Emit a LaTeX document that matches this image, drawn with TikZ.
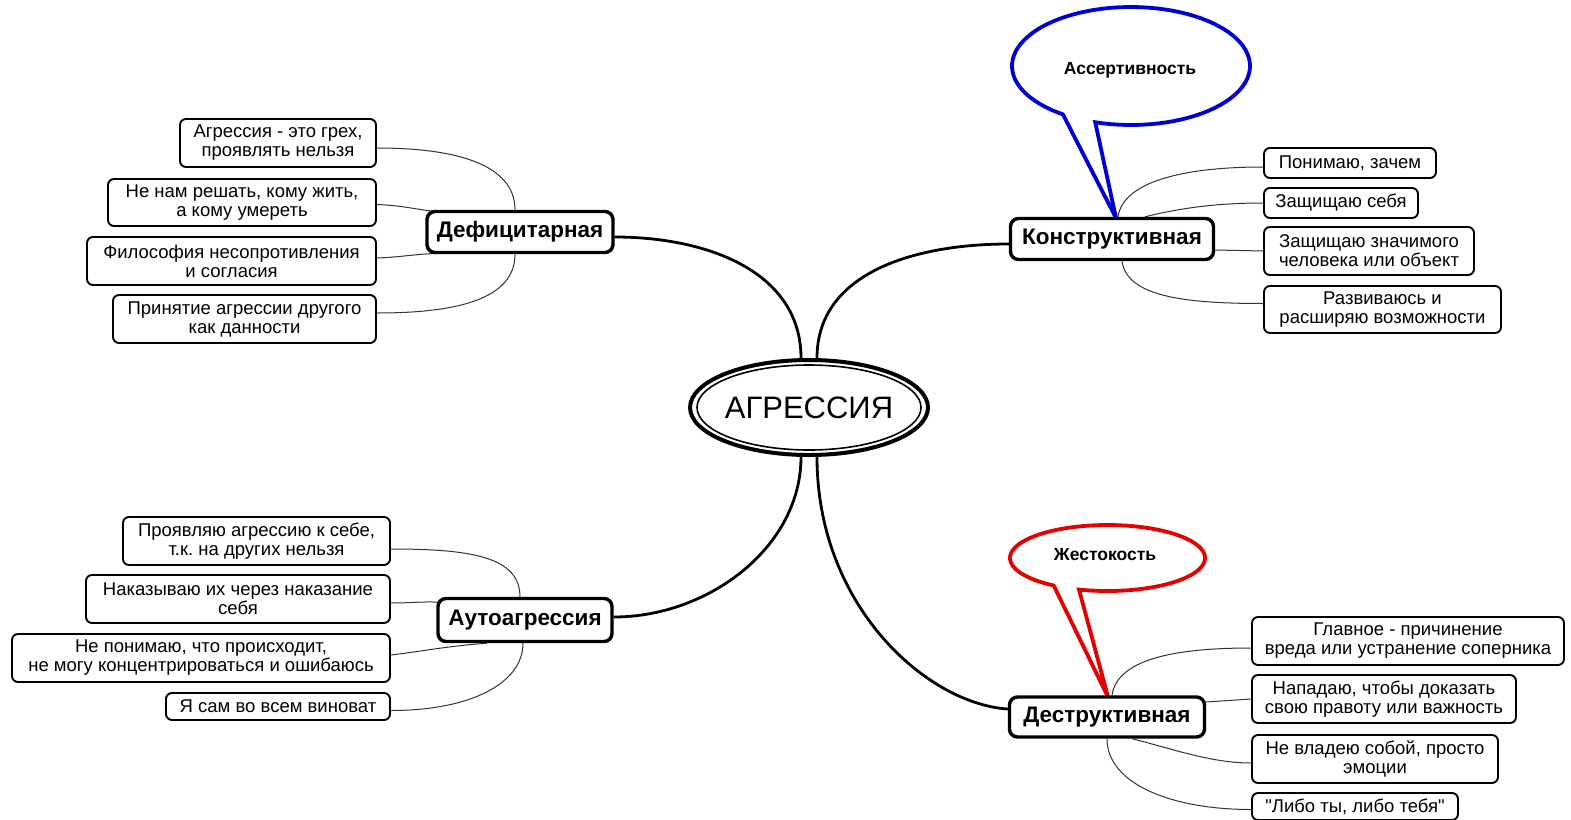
\documentclass[tikz,border=0pt]{standalone}
\usepackage{fontspec}
\setmainfont{Liberation Sans}[Ligatures=TeXOff]
\usetikzlibrary{shapes.geometric}
\pgfdeclarelayer{background}
\pgfsetlayers{background,main}
\definecolor{callblue}{RGB}{0,0,210}
\definecolor{callred}{RGB}{228,0,0}
\frenchspacing
\begin{document}
\begin{tikzpicture}[x=1pt,y=-1pt,
  leaf/.style={draw, fill=white, line width=1.9pt, rounded corners=6pt, align=center, inner sep=0pt, font=\fontsize{18.5}{19}\selectfont},
  branch/.style={draw, fill=white, line width=3.4pt, rounded corners=8pt, inner sep=0pt, font=\fontsize{22.5}{25}\selectfont\bfseries},
  mainlink/.style={line width=2.8pt},
  leaflink/.style={line width=1pt, black!80},
  calltext/.style={font=\fontsize{17.5}{20}\selectfont\bfseries},
]
\useasboundingbox (0,0) rectangle (1571,819);

% central node
\node[ellipse, draw, fill=white, line width=4pt, minimum width=234, minimum height=95, inner sep=0pt,
      font=\fontsize{31}{36}\selectfont] (agr) at (809,407.5) {АГРЕССИЯ};
\node[ellipse, draw, line width=1.6pt, minimum width=224, minimum height=85, inner sep=0pt] (agrin) at (809,407.5) {};

% branch nodes
\node[branch, minimum width=186, minimum height=41] (def) at (520,232) {Дефицитарная};
\node[branch, minimum width=203, minimum height=41] (kon) at (1112,239) {Конструктивная};
\node[branch, minimum width=174, minimum height=43] (aut) at (525,620) {Аутоагрессия};
\node[branch, minimum width=195, minimum height=40] (des) at (1107,717) {Деструктивная};

% leaves: Дефицитарная
\node[leaf, minimum width=196, minimum height=48] (l1) at (278,143) {Агрессия - это грех,\\проявлять нельзя};
\node[leaf, minimum width=268, minimum height=47] (l2) at (242,202.5) {Не нам решать, кому жить,\\а кому умереть};
\node[leaf, minimum width=289, minimum height=48] (l3) at (231.5,261) {Философия несопротивления\\и согласия};
\node[leaf, minimum width=263, minimum height=48] (l4) at (244.5,319) {Принятие агрессии другого\\как данности};

% leaves: Конструктивная
\node[leaf, minimum width=172, minimum height=30] (r1) at (1350,163) {Понимаю, зачем};
\node[leaf, minimum width=154, minimum height=30] (r2) at (1341,203) {Защищаю себя};
\node[leaf, minimum width=210, minimum height=48] (r3) at (1369,251) {Защищаю значимого\\человека или объект};
\node[leaf, minimum width=237, minimum height=47] (r4) at (1382.5,309.5) {Развиваюсь и\\расширяю возможности};

% leaves: Аутоагрессия
\node[leaf, minimum width=267, minimum height=48] (a1) at (256.5,541) {Проявляю агрессию к себе,\\т.к. на других нельзя};
\node[leaf, minimum width=304, minimum height=48] (a2) at (238,599) {Наказываю их через наказание\\себя};
\node[leaf, minimum width=378, minimum height=48] (a3) at (201,658) {Не понимаю, что происходит,\\не могу концентрироваться и ошибаюсь};
\node[leaf, minimum width=224, minimum height=27] (a4) at (278,706.5) {Я сам во всем виноват};

% leaves: Деструктивная
\node[leaf, minimum width=312, minimum height=48] (d1) at (1408,641) {Главное - причинение\\вреда или устранение соперника};
\node[leaf, minimum width=264, minimum height=48] (d2) at (1384,699) {Нападаю, чтобы доказать\\свою правоту или важность};
\node[leaf, minimum width=246, minimum height=48] (d3) at (1375,759) {Не владею собой, просто\\эмоции};
\node[leaf, minimum width=206, minimum height=27] (d4) at (1355,806.5) {"Либо ты, либо тебя"};

\coordinate (asstip) at (1116,218);
\coordinate (zhtip) at (1108,697);

\begin{pgfonlayer}{background}
\fill[white] (0,0) rectangle (1571,819);
% callouts
\draw[callblue, line width=3.8pt, fill=white]
  plot[domain=124.9:467.5, samples=90] ({1131+119*cos(\x)},{66+59*sin(\x)}) -- (asstip) -- cycle;
\draw[callred, line width=3.8pt, fill=white]
  plot[domain=123.5:467, samples=90] ({1107.5+97.5*cos(\x)},{558+33*sin(\x)}) -- (zhtip) -- cycle;

% main links
\draw[mainlink] ([xshift=-8pt]agr.north) .. controls +(0,-85) and +(95,0) .. ([yshift=-5pt]def.east);
\draw[mainlink] ([xshift=8pt]agr.north) .. controls +(0,-85) and +(-95,0) .. ([yshift=-5pt]kon.west);
\draw[mainlink] ([xshift=-8pt]agr.south) .. controls +(0,90) and +(95,0) .. ([yshift=3pt]aut.east);
\draw[mainlink] ([xshift=8pt]agr.south) .. controls +(0,150) and +(-80,-5) .. ([yshift=8pt]des.west);

% leaf links: Дефицитарная
\draw[leaflink] ([xshift=-5pt]def.north) .. controls +(0,-45) and +(80,0) .. ([yshift=-5pt]l1.east);
\draw[leaflink] ([yshift=-2pt]l2.east) .. controls +(25,1) and +(-25,-3) .. ([xshift=12pt,yshift=-2pt]def.north west);
\draw[leaflink] ([yshift=3pt]l3.east) .. controls +(25,-1) and +(-25,1) .. ([xshift=14pt,yshift=1pt]def.south west);
\draw[leaflink] ([xshift=-5pt]def.south) .. controls +(0,45) and +(80,0) .. ([yshift=6pt]l4.east);

% leaf links: Конструктивная
\draw[leaflink] ([xshift=6pt]kon.north) .. controls +(5,-35) and +(-80,0) .. ([yshift=-4pt]r1.west);
\draw[leaflink] ([xshift=33pt]kon.north) .. controls +(40,-10) and +(-40,0) .. (r2.west);
\draw[leaflink] ([yshift=-11pt]kon.east) -- (r3.west);
\draw[leaflink] ([xshift=10pt]kon.south) .. controls +(5,35) and +(-80,0) .. ([yshift=6pt]r4.west);

% leaf links: Аутоагрессия
\draw[leaflink] ([yshift=-8pt]a1.east) .. controls +(80,0) and +(0,-40) .. ([xshift=-5pt]aut.north);
\draw[leaflink] ([yshift=-4pt]a2.east) .. controls +(25,0) and +(-25,-2) .. ([xshift=12pt,yshift=-6pt]aut.north west);
\draw[leaflink] ([yshift=3pt]a3.east) .. controls +(40,-5) and +(-40,3) .. ([xshift=-38pt]aut.south);
\draw[leaflink] ([yshift=-4pt]a4.east) .. controls +(80,0) and +(0,40) .. ([xshift=-2pt]aut.south);

% leaf links: Деструктивная
\draw[leaflink] ([xshift=5pt]des.north) .. controls +(5,-35) and +(-80,0) .. ([yshift=-7pt]d1.west);
\draw[leaflink] ([yshift=15pt]des.east) -- (d2.west);
\draw[leaflink] ([xshift=25pt]des.south) .. controls +(40,10) and +(-40,0) .. ([yshift=-4pt]d3.west);
\draw[leaflink] ([xshift=0pt]des.south) .. controls +(0,45) and +(-80,0) .. ([yshift=-3pt]d4.west);
\end{pgfonlayer}

% callout texts
\node[calltext] (ass) at (1130,70) {Ассертивность};
\node[calltext] (zh) at (1105,555) {Жестокость};
\end{tikzpicture}
\end{document}
